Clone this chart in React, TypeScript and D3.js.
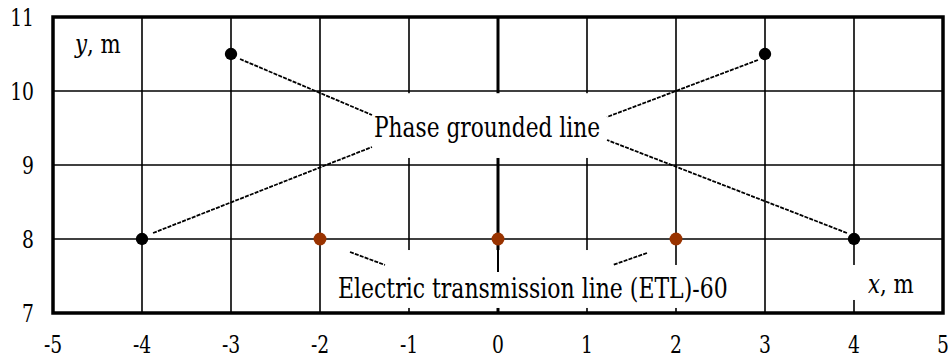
import React from "react";
import * as d3 from "d3";

const W = 950;
const H = 358;

// axis ticks
const xTicks = [-5, -4, -3, -2, -1, 0, 1, 2, 3, 4, 5];
const yTicks = [7, 8, 9, 10, 11];

// phase grounded line conductors
const phaseX = [-4, -3, 3, 4];
const phaseY = [8, 10.5, 10.5, 8];

// ETL-60 conductors
const etlX = [-2, 0, 2];
const etlY = [8, 8, 8];

// label boxes (data units): [x0, x1, y0, y1]
const phaseBox = [-1.44, 1.24, 9.095, 9.97];
const etlBoxes = [
  [-1.83, 1.82, 7.068, 7.851],
  [1.82, 2.72, 7.068, 7.649],
];
const xLabelBox = [3.9, 4.85, 7.176, 7.649];

// leader lines (data units): [x1, y1, x2, y2]
const dashedLeaders = [
  [-2.899, 10.432, -1.416, 9.676],
  [-3.876, 8.081, -1.416, 9.243],
  [2.921, 10.419, 1.225, 9.649],
  [3.921, 8.081, 1.225, 9.338],
  [-1.663, 7.824, -1.27, 7.649],
  [1.674, 7.811, 1.292, 7.649],
];
const solidLeaders = [[0, 8, 0, 7.554]];

const FONT = "'DejaVu Serif', 'Noto Serif', serif";
const SX = 0.77;

type TProps = {
  x: number;
  y: number;
  size: number;
  anchor?: "start" | "middle" | "end";
  dy?: string;
  sx?: number;
  children: React.ReactNode;
};

function T({ x, y, size, anchor = "start", dy, sx = SX, children }: TProps) {
  return (
    <text
      transform={`translate(${x},${y}) scale(${sx},1)`}
      textAnchor={anchor}
      dy={dy}
      style={{ fontFamily: FONT, fontSize: size + "px" }}
      fill="#000"
    >
      {children}
    </text>
  );
}

export default function App() {
  const left = 53;
  const right = 943;
  const top = 17;
  const bottom = 313;
  const x = d3.scaleLinear().domain([-5, 5]).range([left, right]);
  const y = d3.scaleLinear().domain([7, 11]).range([bottom, top]);

  const rect = (b: number[], key: string) => (
    <rect
      key={key}
      x={x(b[0])}
      y={y(b[3])}
      width={x(b[1]) - x(b[0])}
      height={y(b[2]) - y(b[3])}
      fill="#fff"
    />
  );

  return (
    <svg
      width={W}
      height={H}
      style={{ position: "absolute", left: 0, top: 0, display: "block", background: "#fff" }}
    >
      {xTicks.slice(1, -1).map((t) => (
        <line key={"gx" + t} x1={x(t)} x2={x(t)} y1={y(7)} y2={y(11)} stroke="#000" strokeWidth={t === 0 ? 3 : 1.6} />
      ))}
      {yTicks.slice(1, -1).map((t) => (
        <line key={"gy" + t} x1={x(-5)} x2={x(5)} y1={y(t)} y2={y(t)} stroke="#000" strokeWidth={1.6} />
      ))}

      {rect(phaseBox, "pb")}
      {etlBoxes.map((b, i) => rect(b, "eb" + i))}
      {rect(xLabelBox, "xb")}

      {dashedLeaders.map((l, i) => (
        <line
          key={"dl" + i}
          x1={x(l[0])}
          y1={y(l[1])}
          x2={x(l[2])}
          y2={y(l[3])}
          stroke="#000"
          strokeWidth={1.8}
          strokeDasharray="4,1.2"
        />
      ))}
      {solidLeaders.map((l, i) => (
        <line key={"sl" + i} x1={x(l[0])} y1={y(l[1])} x2={x(l[2])} y2={y(l[3])} stroke="#000" strokeWidth={2} />
      ))}

      <rect x={left} y={top} width={right - left} height={bottom - top} fill="none" stroke="#000" strokeWidth={3.5} />

      {phaseX.map((v, i) => (
        <path
          key={"pm" + i}
          transform={`translate(${x(v)},${y(phaseY[i])})`}
          d={d3.symbol(d3.symbolCircle, 120)() as string}
          fill="#000"
        />
      ))}
      {etlX.map((v, i) => (
        <path
          key={"em" + i}
          transform={`translate(${x(v)},${y(etlY[i])})`}
          d={d3.symbol(d3.symbolCircle, 130)() as string}
          fill="#993300"
        />
      ))}

      {yTicks.map((t) => (
        <T key={"yl" + t} x={34} y={y(t)} dy="0.36em" anchor="end" size={25} sx={0.75}>
          {t}
        </T>
      ))}
      {xTicks.map((t) => (
        <T key={"xl" + t} x={x(t)} y={353} anchor="middle" size={25} sx={0.75}>
          {t}
        </T>
      ))}

      <T x={487} y={137} anchor="middle" size={27.5} sx={0.79}>
        Phase grounded line
      </T>
      <T x={338} y={298} size={28} sx={0.785}>
        Electric transmission line (ETL)-60
      </T>
      <T x={75} y={53} size={26} sx={0.82}>
        <tspan fontStyle="italic">y</tspan>, m
      </T>
      <T x={868} y={293} size={26} sx={0.82}>
        <tspan fontStyle="italic">x</tspan>, m
      </T>
    </svg>
  );
}
